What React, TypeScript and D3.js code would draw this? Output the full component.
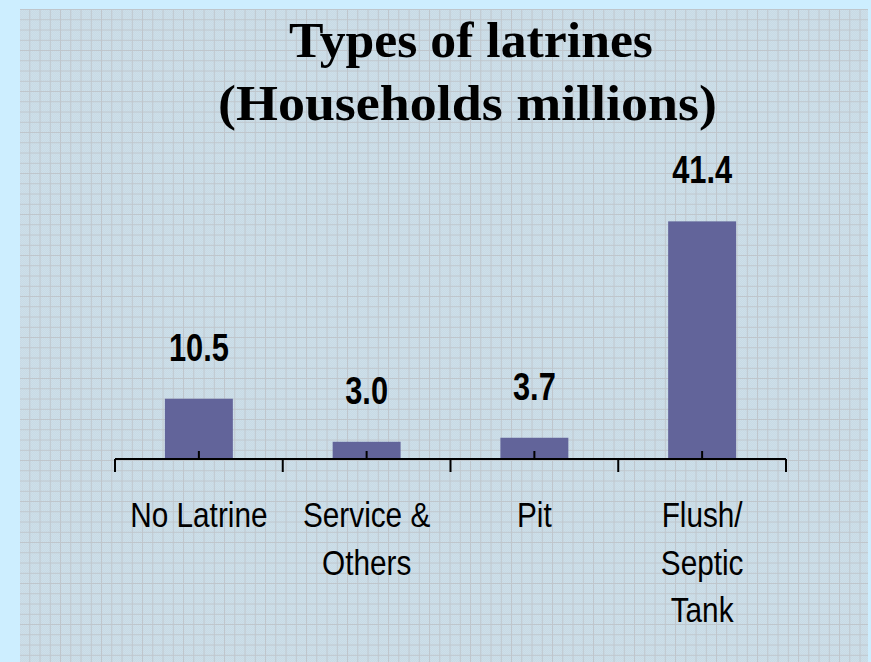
import React from "react";
import * as d3 from "d3";

const categories: string[][] = [
  ["No Latrine"],
  ["Service &", "Others"],
  ["Pit"],
  ["Flush/", "Septic", "Tank"],
];
const values: number[] = [10.5, 3.0, 3.7, 41.4];
const titleLines: string[] = ["Types of latrines", "(Households millions)"];

const W = 871;
const H = 662;
const panel = { x: 20, y: 9, w: 848, h: 653 };
const axisLeft = 115;
const axisRight = 786;
const baseY = 459;

export default function App() {
  const keys = categories.map((c) => c.join(" "));
  const x = d3
    .scaleBand<string>()
    .domain(keys)
    .range([axisLeft, axisRight])
    .paddingInner(0.595)
    .paddingOuter(0.2975);
  const y = d3.scaleLinear().domain([0, 50]).range([baseY, 172]);
  const step = x.step();
  const centers = keys.map((k) => (x(k) as number) + x.bandwidth() / 2);
  const boundaries = [centers[0] - step / 2, ...centers.map((c) => c + step / 2)];

  const sx = 0.79;
  const cx = 0.85;

  return (
    <svg
      width={W}
      height={H}
      style={{ position: "absolute", left: 0, top: 0, display: "block" }}
    >
      <defs>
        <pattern id="checker" width="2" height="2" patternUnits="userSpaceOnUse">
          <rect width="2" height="2" fill="#c8dae5" />
          <rect width="1" height="1" fill="#cddfe9" />
          <rect x="1" y="1" width="1" height="1" fill="#cddfe9" />
        </pattern>
        <pattern
          id="grid"
          x={panel.x + 9.3}
          y={panel.y + 10.3}
          width="10.25"
          height="10.25"
          patternUnits="userSpaceOnUse"
        >
          <path d="M0 0.5 H10.25 M0.5 0 V10.25" stroke="#bfc6cc" strokeWidth="1" fill="none" />
        </pattern>
      </defs>
      <rect x={0} y={0} width={W} height={H} fill="#cdeeff" />
      <rect x={panel.x} y={panel.y} width={panel.w} height={panel.h} fill="url(#checker)" />
      <rect x={panel.x} y={panel.y} width={panel.w} height={panel.h} fill="url(#grid)" />

      {/* Title */}
      <g fontFamily="'Liberation Serif', 'Times New Roman', serif" fontWeight="bold" fill="#000">
        <text x={471} y={57} textAnchor="middle" fontSize={50} textLength={364} lengthAdjust="spacingAndGlyphs">
          {titleLines[0]}
        </text>
        <text x={467.5} y={120} textAnchor="middle" fontSize={50} textLength={499} lengthAdjust="spacingAndGlyphs">
          {titleLines[1]}
        </text>
      </g>

      {/* Bars */}
      {keys.map((k, i) => (
        <rect
          key={k}
          x={x(k)}
          y={y(values[i])}
          width={x.bandwidth()}
          height={baseY - y(values[i])}
          fill="#62649a"
        />
      ))}

      {/* Axis */}
      <g stroke="#000" strokeWidth={2}>
        <line x1={boundaries[0]} x2={boundaries[boundaries.length - 1]} y1={baseY} y2={baseY} />
        {boundaries.map((b, i) => (
          <line key={"b" + i} x1={b} x2={b} y1={baseY} y2={baseY + 13} />
        ))}
        {centers.map((c, i) => (
          <line key={"c" + i} x1={c} x2={c} y1={baseY} y2={baseY - 8} />
        ))}
      </g>

      {/* Value labels */}
      <g fontFamily="'Liberation Sans', Arial, sans-serif" fontWeight="bold" fontSize={39} fill="#000">
        {values.map((v, i) => (
          <text
            key={"v" + i}
            textAnchor="middle"
            transform={`translate(${centers[i]},${y(v) - 38}) scale(${sx},1)`}
          >
            {d3.format(".1f")(v)}
          </text>
        ))}
      </g>

      {/* Category labels */}
      <g fontFamily="'Liberation Sans', Arial, sans-serif" fontSize={35} fill="#000">
        {categories.map((lines, i) =>
          lines.map((ln, j) => (
            <text
              key={"t" + i + "-" + j}
              textAnchor="middle"
              transform={`translate(${centers[i]},${527 + j * 47.5}) scale(${cx},1)`}
            >
              {ln}
            </text>
          ))
        )}
      </g>
    </svg>
  );
}
